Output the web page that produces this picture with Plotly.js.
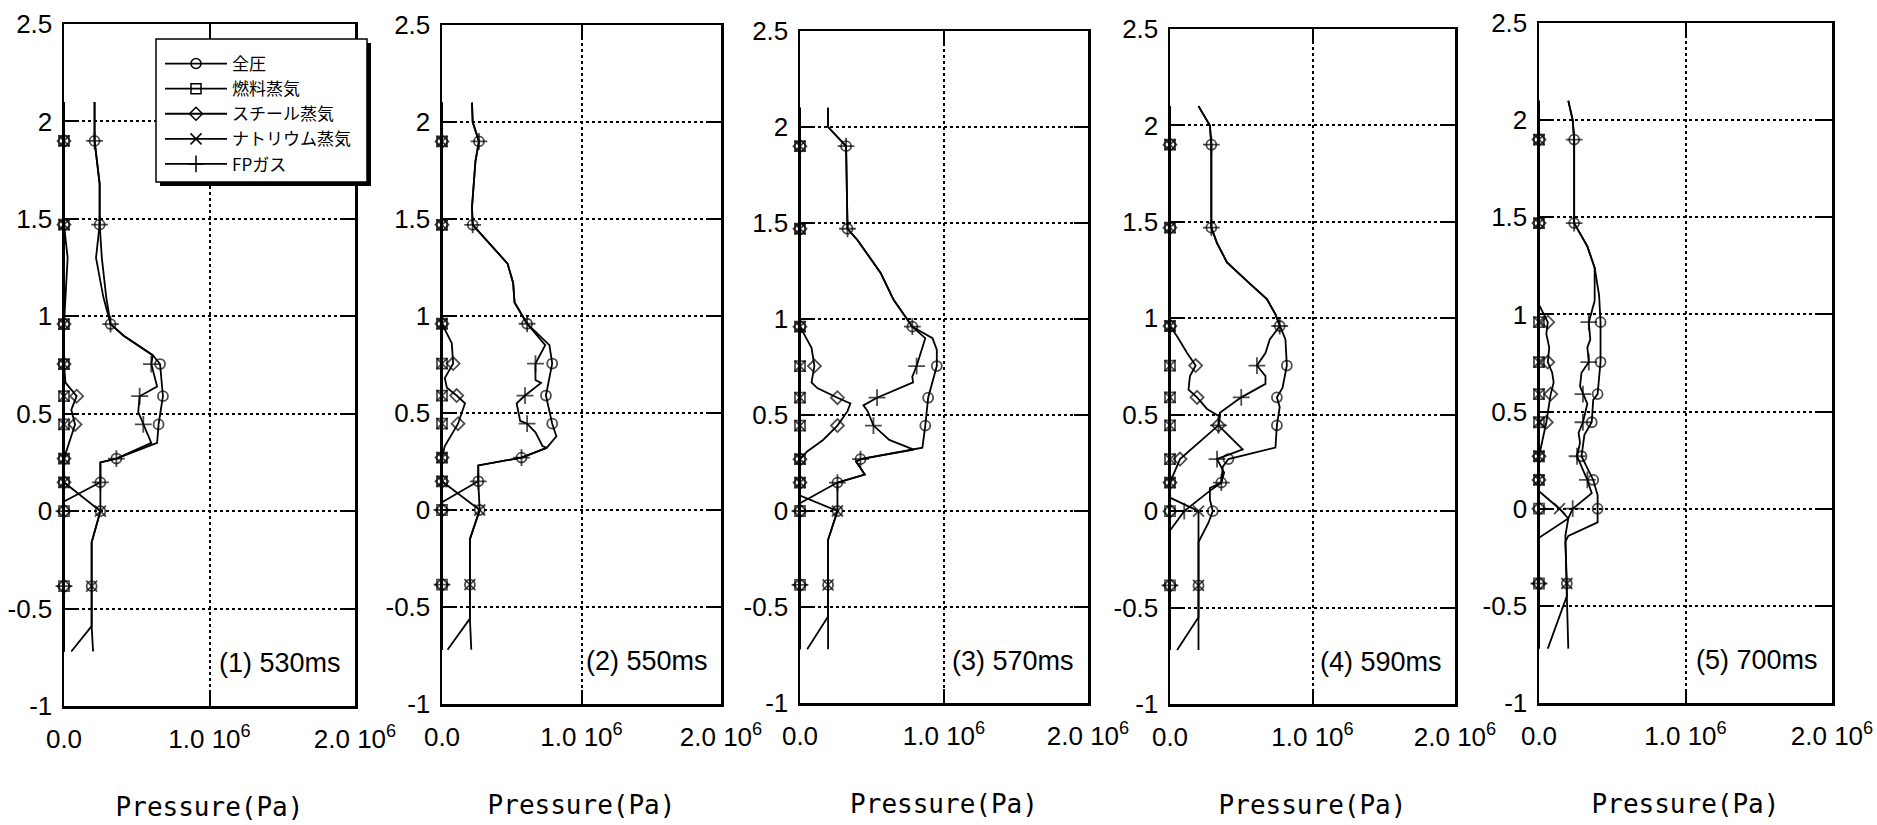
<!DOCTYPE html>
<html>
<head>
<meta charset="utf-8">
<script src="https://cdn.plot.ly/plotly-3.0.1.min.js"></script>
<style>
  html, body { margin: 0; padding: 0; background: #fff; }
  #chart { width: 1877px; height: 825px; }
</style>
</head>
<body>
<div id="chart"></div>
<script>
// Mesh-node heights (m) where every profile carries a symbol.
const NODE_HEIGHTS = [1.9, 1.47, 0.96, 0.755, 0.59, 0.445, 0.27, 0.148, 0.0, -0.385];

const SERIES_NAMES = ['全圧', '燃料蒸気', 'スチール蒸気', 'ナトリウム蒸気', 'FPガス'];
const PANEL_LABELS = ['(1) 530ms', '(2) 550ms', '(3) 570ms', '(4) 590ms', '(5) 700ms'];

const X_TICK_VALUES = [0, 1, 2];
const X_TICK_TEXT = ['0.0', '1.0 10<sup>6</sup>', '2.0 10<sup>6</sup>'];
const Y_TICK_VALUES = [-1, -0.5, 0, 0.5, 1, 1.5, 2, 2.5];
const Y_TICK_TEXT = ['-1', '-0.5', '0', '0.5', '1', '1.5', '2', '2.5'];

// Axial pressure profiles: [height (m), pressure (10^6 Pa)]
const FUEL_VAPOR = [[2.1,0],[1.9,0],[1.47,0],[0.96,0],[0.755,0],[0.59,0],[0.445,0],[0.27,0],[0.148,0],[0.0,0],[-0.385,0],[-0.72,0]];

// (1) 530 ms
const TOTAL_530 = [[2.1,0.21],[2.0,0.21],[1.9,0.21],[1.68,0.245],[1.47,0.245],[1.3,0.26],[1.1,0.29],[0.96,0.32],[0.9,0.41],[0.8,0.61],[0.755,0.66],[0.59,0.68],[0.445,0.65],[0.35,0.64],[0.27,0.36],[0.25,0.25],[0.148,0.25],[0.0,0.25],[-0.16,0.19],[-0.385,0.19],[-0.59,0.19],[-0.72,0.2]];
const STEEL_530 = [[2.1,0],[1.9,0],[1.47,0],[1.3,0.025],[1.1,0.01],[0.96,0],[0.755,0],[0.66,0.01],[0.59,0.087],[0.52,0.05],[0.445,0.076],[0.27,0],[0.148,0],[0.0,0],[-0.385,0],[-0.72,0]];
const SODIUM_530 = [[2.1,0],[1.9,0],[1.47,0],[0.96,0],[0.755,0],[0.59,0],[0.445,0],[0.27,0],[0.148,0],[0.0,0.25],[-0.16,0.19],[-0.385,0.19],[-0.59,0.19],[-0.72,0.05]];
const FP_530 = [[2.1,0.21],[2.0,0.21],[1.9,0.21],[1.68,0.245],[1.47,0.245],[1.3,0.22],[1.1,0.27],[0.96,0.32],[0.9,0.41],[0.8,0.61],[0.755,0.6],[0.64,0.64],[0.59,0.52],[0.51,0.51],[0.445,0.545],[0.35,0.6],[0.27,0.36],[0.25,0.25],[0.148,0.25],[0.05,0],[0.0,0],[-0.385,0],[-0.72,0]];

// (2) 550 ms
const TOTAL_550 = [[2.1,0.215],[2.0,0.22],[1.9,0.265],[1.8,0.24],[1.56,0.215],[1.47,0.22],[1.39,0.32],[1.27,0.47],[1.17,0.51],[1.07,0.52],[0.96,0.61],[0.85,0.77],[0.755,0.79],[0.59,0.745],[0.445,0.79],[0.38,0.82],[0.32,0.75],[0.27,0.57],[0.23,0.26],[0.148,0.26],[0.0,0.27],[-0.15,0.2],[-0.385,0.2],[-0.56,0.2],[-0.72,0.21]];
const STEEL_550 = [[2.1,0],[1.9,0],[1.47,0],[0.96,0],[0.86,0.07],[0.755,0.08],[0.68,0.02],[0.63,0.035],[0.59,0.105],[0.55,0.165],[0.445,0.115],[0.33,0.02],[0.27,0],[0.148,0],[0.0,0],[-0.385,0],[-0.72,0]];
const SODIUM_550 = [[2.1,0],[1.9,0],[1.47,0],[0.96,0],[0.755,0],[0.59,0],[0.445,0],[0.27,0],[0.148,0],[0.0,0.27],[-0.15,0.2],[-0.385,0.2],[-0.56,0.2],[-0.72,0.04]];
const FP_550 = [[2.1,0.215],[2.0,0.22],[1.9,0.265],[1.8,0.24],[1.56,0.215],[1.47,0.22],[1.39,0.32],[1.27,0.47],[1.17,0.51],[1.07,0.52],[0.96,0.61],[0.85,0.74],[0.755,0.67],[0.67,0.67],[0.655,0.71],[0.59,0.595],[0.55,0.535],[0.46,0.56],[0.445,0.61],[0.4,0.67],[0.33,0.72],[0.32,0.75],[0.27,0.57],[0.23,0.26],[0.148,0.26],[0.04,0],[0.0,0],[-0.385,0],[-0.72,0]];

// (3) 570 ms
const TOTAL_570 = [[2.1,0.195],[2.0,0.195],[1.9,0.32],[1.57,0.325],[1.47,0.33],[1.41,0.4],[1.24,0.56],[1.1,0.65],[0.96,0.78],[0.9,0.92],[0.84,0.95],[0.755,0.95],[0.59,0.89],[0.445,0.87],[0.33,0.85],[0.27,0.42],[0.257,0.39],[0.19,0.45],[0.148,0.26],[0.0,0.26],[-0.15,0.195],[-0.385,0.195],[-0.55,0.195],[-0.72,0.195]];
const STEEL_570 = [[2.1,0],[1.9,0],[1.47,0],[0.96,0],[0.85,0.08],[0.755,0.1],[0.67,0.08],[0.64,0.12],[0.59,0.26],[0.56,0.35],[0.52,0.33],[0.445,0.26],[0.37,0.16],[0.31,0.05],[0.27,0],[0.148,0],[0.0,0],[-0.385,0],[-0.72,0]];
const SODIUM_570 = [[2.1,0],[1.9,0],[1.47,0],[0.96,0],[0.755,0],[0.59,0],[0.445,0],[0.27,0],[0.148,0],[0.08,0],[0.0,0.26],[-0.15,0.195],[-0.385,0.195],[-0.55,0.195],[-0.72,0.05]];
const FP_570 = [[2.1,0.195],[2.0,0.195],[1.9,0.32],[1.57,0.325],[1.47,0.33],[1.41,0.4],[1.24,0.56],[1.1,0.65],[0.96,0.78],[0.9,0.87],[0.755,0.81],[0.7,0.78],[0.67,0.785],[0.59,0.535],[0.55,0.44],[0.52,0.47],[0.445,0.51],[0.37,0.62],[0.32,0.79],[0.27,0.42],[0.257,0.39],[0.19,0.45],[0.148,0.26],[0.04,0],[0.0,0],[-0.385,0],[-0.72,0]];

// (4) 590 ms
const TOTAL_590 = [[2.1,0.2],[2.0,0.28],[1.9,0.29],[1.47,0.29],[1.39,0.33],[1.29,0.4],[1.18,0.56],[1.1,0.68],[1.02,0.74],[0.96,0.77],[0.89,0.81],[0.755,0.82],[0.64,0.79],[0.59,0.75],[0.54,0.77],[0.445,0.75],[0.33,0.74],[0.27,0.41],[0.23,0.37],[0.148,0.36],[0.12,0.28],[0.06,0.28],[0.0,0.3],[-0.06,0.27],[-0.16,0.2],[-0.385,0.2],[-0.55,0.2],[-0.72,0.2]];
const STEEL_590 = [[2.1,0],[1.9,0],[1.47,0],[0.96,0],[0.9,0.055],[0.82,0.12],[0.755,0.18],[0.7,0.14],[0.63,0.13],[0.59,0.19],[0.53,0.26],[0.49,0.35],[0.445,0.34],[0.27,0.07],[0.148,0],[0.0,0],[-0.385,0],[-0.72,0]];
const SODIUM_590 = [[2.1,0],[1.9,0],[1.47,0],[0.96,0],[0.755,0],[0.59,0],[0.445,0],[0.27,0],[0.148,0],[0.07,0],[0.0,0.2],[-0.16,0.2],[-0.385,0.2],[-0.55,0.2],[-0.72,0.05]];
const FP_590 = [[2.1,0.2],[2.0,0.28],[1.9,0.29],[1.47,0.29],[1.39,0.33],[1.29,0.4],[1.18,0.56],[1.1,0.68],[1.02,0.74],[0.96,0.77],[0.89,0.7],[0.82,0.67],[0.755,0.61],[0.7,0.67],[0.66,0.67],[0.59,0.5],[0.51,0.35],[0.445,0.34],[0.32,0.51],[0.27,0.33],[0.2,0.38],[0.148,0.36],[0.1,0.27],[0.0,0.1],[-0.1,0],[-0.385,0],[-0.72,0]];

// (5) 700 ms
const TOTAL_700 = [[2.1,0.2],[2.0,0.23],[1.9,0.24],[1.47,0.24],[1.35,0.33],[1.24,0.38],[1.1,0.41],[0.96,0.42],[0.755,0.42],[0.59,0.4],[0.56,0.37],[0.445,0.36],[0.38,0.31],[0.27,0.29],[0.148,0.37],[0.07,0.4],[0.0,0.4],[-0.07,0.4],[-0.14,0.2],[-0.17,0.18],[-0.385,0.19],[-0.45,0.19],[-0.72,0.2]];
const STEEL_700 = [[2.1,0],[1.9,0],[1.47,0],[1.05,0],[0.96,0.06],[0.9,0.05],[0.83,0.07],[0.755,0.06],[0.7,0.09],[0.65,0.1],[0.59,0.08],[0.445,0.05],[0.27,0],[0.148,0],[0.0,0],[-0.385,0],[-0.72,0]];
const SODIUM_700 = [[2.1,0],[1.9,0],[1.47,0],[0.96,0],[0.755,0],[0.59,0],[0.445,0],[0.27,0],[0.148,0],[0.09,0],[0.0,0.14],[-0.05,0.2],[-0.14,0.18],[-0.385,0.19],[-0.45,0.19],[-0.72,0.06]];
const FP_700 = [[2.1,0.2],[2.0,0.23],[1.9,0.24],[1.47,0.24],[1.35,0.33],[1.24,0.38],[1.07,0.38],[0.96,0.34],[0.87,0.35],[0.83,0.33],[0.755,0.34],[0.7,0.29],[0.63,0.28],[0.59,0.3],[0.54,0.33],[0.445,0.3],[0.39,0.27],[0.34,0.28],[0.27,0.26],[0.2,0.3],[0.148,0.33],[0.08,0.36],[0.0,0.23],[-0.05,0.2],[-0.15,0],[-0.385,0],[-0.72,0]];

// Profiles of each panel, in the legend's series order.
const PANEL_PROFILES = [
  [TOTAL_530, FUEL_VAPOR, STEEL_530, SODIUM_530, FP_530],
  [TOTAL_550, FUEL_VAPOR, STEEL_550, SODIUM_550, FP_550],
  [TOTAL_570, FUEL_VAPOR, STEEL_570, SODIUM_570, FP_570],
  [TOTAL_590, FUEL_VAPOR, STEEL_590, SODIUM_590, FP_590],
  [TOTAL_700, FUEL_VAPOR, STEEL_700, SODIUM_700, FP_700]
];

// ---- styling ----
const W = 1877, H = 825;
// plot frames in pixels: [left, right, top, bottom]
const FRAMES = [[64,355,24,706],[442,721,25,704],[800,1088,31,703],[1170,1455,29,704],[1539,1832,23,703]];
const SYMBOLS = ['circle-open', 'square-open', 'diamond-open', 'x-thin-open', 'cross-thin-open'];
const SYMBOL_SIZES = [10, 10, 10, 11, 12];
const DRAW_ORDER = [1, 2, 3, 4, 0];

const TICK_FONT = {family: '"Liberation Sans", Arial, sans-serif', size: 26, color: '#000'};
const TITLE_FONT = {family: '"DejaVu Sans Mono", "Liberation Mono", monospace', size: 26, color: '#000'};
const LABEL_FONT = {family: '"Liberation Sans", Arial, sans-serif', size: 27, color: '#000'};
const LEGEND_FONT = {family: '"Noto Sans CJK JP", sans-serif', size: 17, color: '#000'};

function isNode(h) {
  return NODE_HEIGHTS.some(n => Math.abs(n - h) < 1e-9);
}

const traces = [];
PANEL_PROFILES.forEach((profiles, p) => {
  const sfx = p === 0 ? '' : String(p + 1);
  DRAW_ORDER.forEach(s => {
    const pts = profiles[s];
    traces.push({
      type: 'scatter',
      mode: 'lines+markers',
      x: pts.map(d => d[1]),
      y: pts.map(d => d[0]),
      xaxis: 'x' + sfx,
      yaxis: 'y' + sfx,
      cliponaxis: false,
      showlegend: false,
      hoverinfo: 'skip',
      line: {color: '#000', width: 1.8},
      marker: {
        symbol: SYMBOLS[s],
        size: pts.map(d => isNode(d[0]) ? SYMBOL_SIZES[s] : 0),
        color: '#000',
        line: {color: '#000', width: 1.8}
      }
    });
  });
});

// legend entries
SERIES_NAMES.forEach((name, s) => {
  traces.push({
    type: 'scatter', mode: 'lines+markers', name: name,
    x: [null], y: [null], xaxis: 'x', yaxis: 'y',
    showlegend: true, hoverinfo: 'skip',
    line: {color: '#000', width: 1.8},
    marker: {symbol: SYMBOLS[s], size: SYMBOL_SIZES[s], color: '#000', line: {color: '#000', width: 1.5}}
  });
});

const layout = {
  width: W, height: H,
  margin: {l: 0, r: 0, t: 0, b: 0},
  paper_bgcolor: '#fff',
  plot_bgcolor: '#fff',
  showlegend: true,
  legend: {
    x: 160 / W, y: 1 - 46 / H, xanchor: 'left', yanchor: 'top',
    bgcolor: 'rgba(0,0,0,0)', borderwidth: 0,
    font: LEGEND_FONT, itemwidth: 62, tracegroupgap: 0
  },
  annotations: [],
  shapes: [
    {type: 'rect', xref: 'paper', yref: 'paper', layer: 'above',
     x0: 160 / W, x1: 371 / W, y0: 1 - 186 / H, y1: 1 - 43 / H,
     fillcolor: '#000', line: {width: 0}},
    {type: 'rect', xref: 'paper', yref: 'paper', layer: 'above',
     x0: 156 / W, x1: 367 / W, y0: 1 - 182 / H, y1: 1 - 39 / H,
     fillcolor: '#fff', line: {color: '#000', width: 1.5}}
  ]
};

FRAMES.forEach((f, p) => {
  const sfx = p === 0 ? '' : String(p + 1);
  const common = {
    showline: true, linecolor: '#000', linewidth: 2.5, mirror: 'ticks',
    ticks: 'inside', ticklen: 14, tickwidth: 2, tickcolor: '#000',
    showgrid: true, gridcolor: '#000', gridwidth: 2, griddash: 'dot',
    zeroline: false, tickfont: TICK_FONT, fixedrange: true,
    ticklabeloverflow: 'allow'
  };
  layout['xaxis' + sfx] = Object.assign({}, common, {
    domain: [f[0] / W, f[1] / W],
    anchor: 'y' + sfx,
    range: [0, 2],
    tickmode: 'array', tickvals: X_TICK_VALUES, ticktext: X_TICK_TEXT,
    ticklabelstandoff: 8,
    title: {text: 'Pressure(Pa)', font: TITLE_FONT, standoff: 45}
  });
  layout['yaxis' + sfx] = Object.assign({}, common, {
    domain: [1 - f[3] / H, 1 - f[2] / H],
    anchor: 'x' + sfx,
    range: [-1, 2.5],
    tickmode: 'array', tickvals: Y_TICK_VALUES, ticktext: Y_TICK_TEXT,
    ticklabelstandoff: 4
  });
  layout.annotations.push({
    xref: 'x' + sfx, yref: 'y' + sfx, x: 1.92, y: -0.78,
    xanchor: 'right', yanchor: 'middle', showarrow: false,
    text: PANEL_LABELS[p], font: LABEL_FONT
  });
});

Plotly.newPlot('chart', traces, layout, {staticPlot: true, displayModeBar: false});
</script>
</body>
</html>
